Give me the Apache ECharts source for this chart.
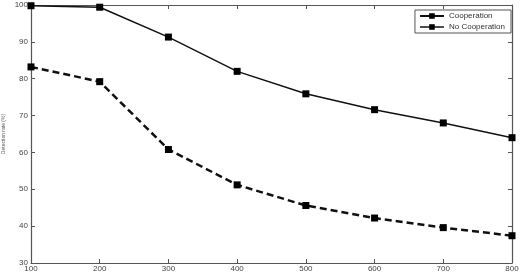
<!DOCTYPE html>
<html><head><meta charset="utf-8">
<script src="https://cdn.jsdelivr.net/npm/echarts@6/dist/echarts.min.js"></script>
<style>html,body{margin:0;padding:0;background:#fff}#c{width:525px;height:278px}</style>
</head><body><div id="c"></div>
<script>
const categories = [100, 200, 300, 400, 500, 600, 700, 800];
const cooperation = [99.8, 99.4, 91.3, 82.0, 75.9, 71.6, 68.0, 64.0];
const noCooperation = [83.2, 79.2, 60.8, 51.2, 45.6, 42.2, 39.6, 37.4];
const seriesNames = ['Cooperation', 'No Cooperation'];
const yName = 'Detection rate (%)';

const chart = echarts.init(document.getElementById('c'));
const axisLine = { show: true, lineStyle: { color: '#555', width: 1.2 } };
const tickIn = { show: true, inside: true, length: 4, lineStyle: { color: '#555' } };
const lbl = { color: '#444', fontSize: 8, fontFamily: 'Liberation Sans, Arial' };
chart.setOption({
  animation: false,
  grid: { left: 31, right: 13, top: 5, bottom: 15, containLabel: false, outerBoundsMode: 'none' },
  legend: {
    right: 14, top: 10, orient: 'vertical', itemGap: 3, itemWidth: 24, itemHeight: 7,
    padding: [2, 6, 2, 4], borderColor: '#555', borderWidth: 1, backgroundColor: '#fff',
    textStyle: { fontSize: 8, color: '#333', fontFamily: 'Liberation Sans, Arial' },
    data: [
      { name: seriesNames[0] },
      { name: seriesNames[1], lineStyle: { type: 'solid', width: 1.5 } }
    ]
  },
  xAxis: [
    { type: 'value', min: 100, max: 800, interval: 100, axisLine, axisTick: tickIn,
      axisLabel: { ...lbl, margin: 2 }, splitLine: { show: false } },
    { type: 'value', position: 'top', min: 100, max: 800, interval: 100, axisLine, axisTick: tickIn,
      axisLabel: { show: false }, splitLine: { show: false } }
  ],
  yAxis: [
    { type: 'value', min: 30, max: 100, interval: 10, axisLine, axisTick: tickIn,
      axisLabel: { ...lbl, margin: 3 }, splitLine: { show: false },
      name: yName, nameLocation: 'middle', nameGap: 25, nameRotate: 90, nameMoveOverlap: false,
      nameTextStyle: { fontSize: 5, color: '#555' } },
    { type: 'value', position: 'right', min: 30, max: 100, interval: 10, axisLine, axisTick: tickIn,
      axisLabel: { show: false }, splitLine: { show: false } }
  ],
  series: [
    { name: seriesNames[0], type: 'line', data: categories.map((x, i) => [x, cooperation[i]]),
      symbol: 'rect', symbolSize: 7, itemStyle: { color: '#000' },
      lineStyle: { color: '#111', width: 1.5 } },
    { name: seriesNames[1], type: 'line', data: categories.map((x, i) => [x, noCooperation[i]]),
      symbol: 'rect', symbolSize: 7, itemStyle: { color: '#000' },
      lineStyle: { color: '#111', width: 2.5, type: [7, 4] } }
  ]
});
</script></body></html>
